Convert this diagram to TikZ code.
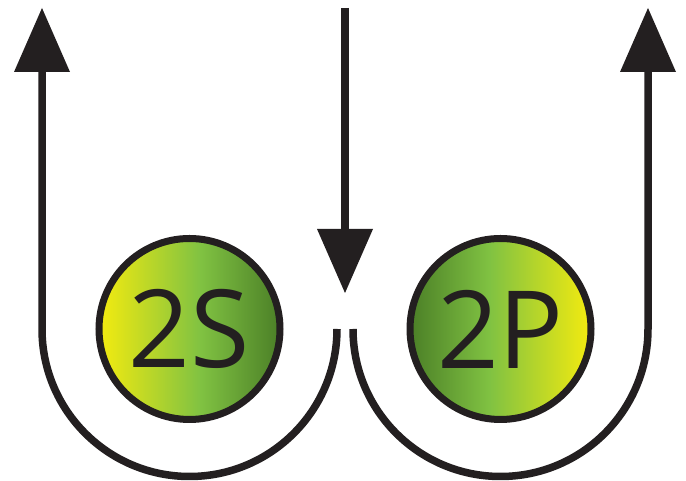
\documentclass[tikz,border=0pt]{standalone}
\usepackage{fontspec}
\newfontfamily\lblfont{Open Sans}
\definecolor{ink}{HTML}{231F20}
\definecolor{yel}{HTML}{F4EB0F}
\definecolor{lgr}{HTML}{80C242}
\definecolor{dgr}{HTML}{4B7F27}
\pgfdeclarehorizontalshading{sshade}{100bp}{color(0bp)=(yel); color(25bp)=(yel); color(53bp)=(lgr); color(75bp)=(dgr); color(100bp)=(dgr)}
\pgfdeclarehorizontalshading{pshade}{100bp}{color(0bp)=(dgr); color(25bp)=(dgr); color(47bp)=(lgr); color(75bp)=(yel); color(100bp)=(yel)}
\begin{document}
\begin{tikzpicture}[x=1pt,y=1pt,
  wire/.style={draw=ink,line width=7.5pt},
  head/.style={fill=ink},
  orb/.style={circle,draw=ink,line width=7pt,minimum size=181pt,inner sep=0pt,
    font=\lblfont\fontsize{108}{108}\selectfont,text=ink}]
\useasboundingbox (0,0) rectangle (686,481);
% circles
\node[orb,shading=sshade] (s2) at (189.5,152) {2S};
\node[orb,shading=pshade] (p2) at (500.5,152) {2P};
% coordinates
\coordinate (lt) at (42,409);
\coordinate (lj) at (42,152);
\coordinate (rj) at (648,152);
\coordinate (rt) at (648,409);
\coordinate (mt) at (345,473);
\coordinate (mb) at (345,252);
% U paths
\draw[wire] (lt) -- (lj) arc[start angle=180,end angle=360,radius=147.5];
\draw[wire] (353,152) arc[start angle=180,end angle=360,radius=147.5] -- (rt);
\draw[wire] (mt) -- (mb);
% arrowheads
\fill[head] (14,409) -- (70,409) -- (42,473) -- cycle;
\fill[head] (620,409) -- (676,409) -- (648,473) -- cycle;
\fill[head] (317,252) -- (373,252) -- (345,188) -- cycle;
\end{tikzpicture}
\end{document}
